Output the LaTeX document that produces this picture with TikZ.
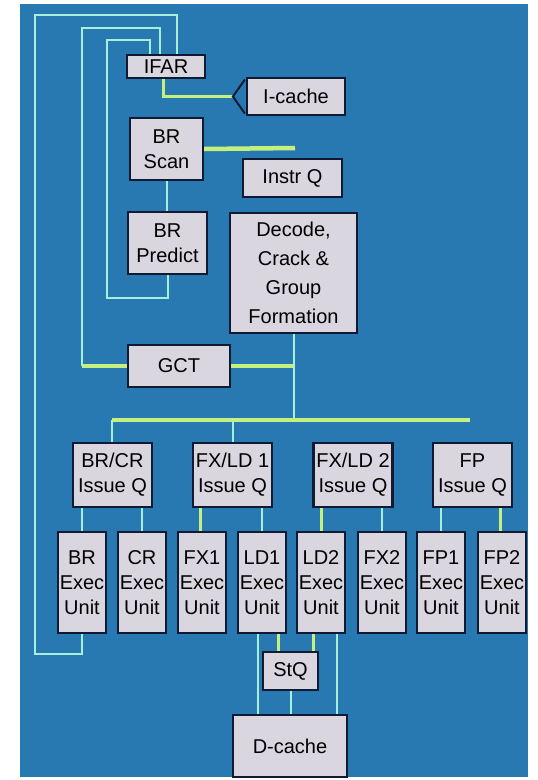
\documentclass[tikz,border=0pt]{standalone}
\usepackage{fontspec}
\setmainfont{Liberation Sans}
\usetikzlibrary{arrows.meta, positioning}
\definecolor{pblue}{HTML}{2878B2}
\definecolor{pbox}{HTML}{D9D6DF}
\definecolor{pnavy}{HTML}{101A33}
\definecolor{pgreen}{HTML}{C6F07E}
\definecolor{pcyan}{HTML}{A6F0DA}
\tikzset{
  unit/.style={
    draw=pnavy, fill=pbox, line width=2.2pt, align=center, inner sep=0pt,
    font=\fontsize{20}{25}\selectfont
  },
  issue/.style={unit, minimum width=79pt, minimum height=64pt},
  exec/.style={unit, minimum width=48pt, minimum height=101pt},
  busline/.style={draw=pgreen, line width=4.5pt},
  gwire/.style={draw=pgreen, line width=3pt},
  wire/.style={draw=pcyan, line width=2pt}
}
\begin{document}
\begin{tikzpicture}[x=1pt, y=-1pt]
  \useasboundingbox (0,0) rectangle (538,780);
  \fill[pblue] (20,4) rectangle (528,777);
  % front end
  \node[unit, minimum width=78pt, minimum height=23pt] (ifar) at (166,66.5) {IFAR};
  \node[unit, minimum width=98pt, minimum height=37pt] (icache) at (296,96.5) {I-cache};
  \node[unit, minimum width=73pt, minimum height=62pt] (brscan) at (166.5,149) {BR\\Scan};
  \node[unit, minimum width=99pt, minimum height=38pt] (instrq) at (292.5,178) {Instr Q};
  \node[unit, minimum width=79pt, minimum height=62pt] (brpredict) at (167.5,243) {BR\\Predict};
  \node[unit, minimum width=127pt, minimum height=120pt, font=\fontsize{20}{29}\selectfont]
    (decode) at (293.5,273) {Decode,\\Crack \&\\Group\\Formation};
  \node[unit, minimum width=102pt, minimum height=42pt] (gct) at (179,366) {GCT};
  % issue queues
  \node[issue] (brcr) at (112.5,475) {BR/CR\\Issue Q};
  \node[issue] (fxld1) at (232.5,475) {FX/LD 1\\Issue Q};
  \node[issue] (fxld2) at (353,475) {FX/LD 2\\Issue Q};
  \node[issue] (fpq) at (472.5,475) {FP\\Issue Q};
  % execution units
  \foreach \cx/\nm/\lab in {82/brexec/BR, 142/crexec/CR, 202/fxone/FX1, 262/ldone/LD1,
                            321/ldtwo/LD2, 382/fxtwo/FX2, 441/fpone/FP1, 502/fptwo/FP2}
    \node[exec] (\nm) at (\cx,582.5) {\lab\\Exec\\Unit};
  \node[unit, minimum width=55pt, minimum height=38pt] (stq) at (290.5,671) {StQ};
  \node[unit, minimum width=114pt, minimum height=62pt] (dcache) at (290,746) {D-cache};

  \coordinate (qtap) at (295,148);
  \coordinate (gctleft) at (82,366);
  \coordinate (busL) at (112,420);
  \coordinate (busR) at (470,420);

  % fetch path
  \draw[gwire, -{Straight Barb[reversed, length=12pt, width=34pt, color=pnavy, line width=2pt]}]
    ([xshift=-3pt]ifar.south) |- (icache.west);
  \draw[busline] (brscan.east) -- (qtap);
  \draw[wire] (brscan.south) -- (brscan.south |- brpredict.north);
  % redirect loops into IFAR
  \draw[wire] (brpredict.south) -- ++(0,23) -| (107,40) -| ([xshift=-16pt]ifar.north);
  \draw[busline] (gct.west) -- (gctleft);
  \draw[wire] (gctleft) |- (160,28) -- ([xshift=-6pt]ifar.north);
  \draw[wire] (brexec.south) -- ++(0,20) -| (35,15) -| ([xshift=11pt]ifar.north);
  % dispatch
  \draw[busline] (gct.east) -- (gct.east -| decode.south);
  \draw[wire] (decode.south) -- (decode.south |- busL);
  \draw[busline] (busL) -- (busR);
  \draw[wire] (busL) -- (busL |- brcr.north);
  \draw[wire] (fxld1.north |- busL) -- (fxld1.north);
  % issue to execution
  \draw[wire] (brexec.north |- brcr.south) -- (brexec.north);
  \draw[wire] (crexec.north |- brcr.south) -- (crexec.north);
  \draw[gwire] ([xshift=-2pt]fxone.north |- fxld1.south) -- ([xshift=-2pt]fxone.north);
  \draw[wire] (ldone.north |- fxld1.south) -- (ldone.north);
  \draw[gwire] (ldtwo.north |- fxld2.south) -- (ldtwo.north);
  \draw[wire] (fxtwo.north |- fxld2.south) -- (fxtwo.north);
  \draw[wire] (fpone.north |- fpq.south) -- (fpone.north);
  \draw[gwire] ([xshift=-2pt]fptwo.north |- fpq.south) -- ([xshift=-2pt]fptwo.north);
  % load/store
  \draw[wire] ([xshift=-4pt]ldone.south) -- ([xshift=-4pt]ldone.south |- dcache.north);
  \draw[gwire] ([xshift=16pt]ldone.south) -- ([xshift=16pt]ldone.south |- stq.north);
  \draw[gwire] ([xshift=-8pt]ldtwo.south) -- ([xshift=-8pt]ldtwo.south |- stq.north);
  \draw[wire] ([xshift=16pt]ldtwo.south) -- ([xshift=16pt]ldtwo.south |- dcache.north);
  \draw[wire] (stq.south) -- (dcache.north -| stq.south);
\end{tikzpicture}
\end{document}
